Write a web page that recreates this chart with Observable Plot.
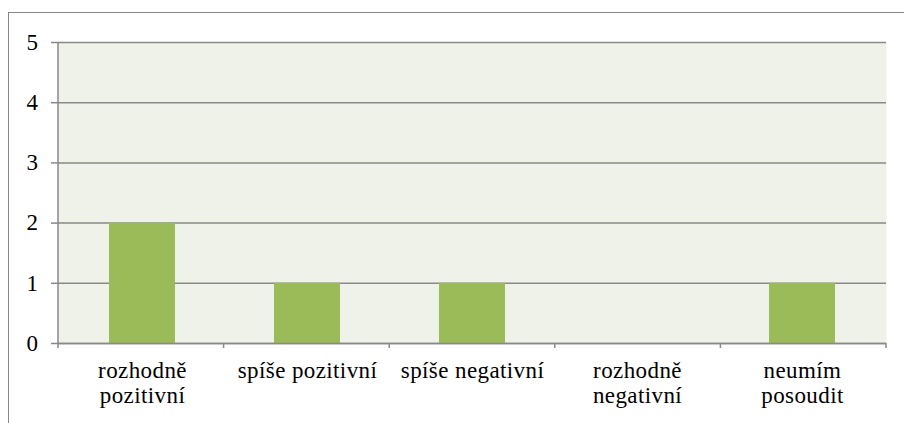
<!DOCTYPE html>
<html>
<head>
<meta charset="utf-8">
<script src="https://cdn.jsdelivr.net/npm/d3@7"></script>
<script src="https://cdn.jsdelivr.net/npm/@observablehq/plot@0.6"></script>
<style>
  html, body { margin: 0; padding: 0; background: #fff; overflow: hidden; }
  #wrap { position: relative; width: 904px; height: 423px; }
  #border { position: absolute; left: 8px; top: 12px; width: 1000px; height: 1000px;
            border-left: 1.5px solid #878787; border-top: 1.5px solid #878787; pointer-events: none; }
  #chart svg { display: block; }
  #chart svg text { font-family: "Liberation Serif", "Times New Roman", serif; font-size: 23px; letter-spacing: 0.4px; fill: #000; }
</style>
</head>
<body>
<div id="wrap">
  <div id="chart"></div>
  <div id="border"></div>
</div>
<script>
const categories = ["rozhodně pozitivní", "spíše pozitivní", "spíše negativní", "rozhodně negativní", "neumím posoudit"];
const counts = [2, 1, 1, 0, 1];
const tickLabels = ["rozhodně\npozitivní", "spíše pozitivní", "spíše negativní", "rozhodně\nnegativní", "neumím\nposoudit"];
const yTicks = [0, 1, 2, 3, 4, 5];

const data = categories.map((c, i) => ({category: c, count: counts[i]}));
const labelOf = new Map(categories.map((c, i) => [c, tickLabels[i]]));

const gridColor = "#898989";
const serif = "Liberation Serif";

function frameLines(index, scales, values, dimensions) {
  const {width, height, marginLeft, marginRight, marginTop, marginBottom} = dimensions;
  const g = d3.create("svg:g").attr("stroke", gridColor).attr("stroke-width", 1.5);
  const y0 = height - marginBottom;
  const n = categories.length;
  const step = (width - marginLeft - marginRight) / n;
  g.append("line").attr("x1", marginLeft).attr("x2", marginLeft).attr("y1", marginTop).attr("y2", y0);
  for (let i = 0; i <= n; i++) {
    const x = marginLeft + i * step;
    g.append("line").attr("x1", x).attr("x2", x).attr("y1", y0).attr("y2", y0 + 5);
  }
  return g.node();
}

const chart = Plot.plot({
  width: 904,
  height: 423,
  marginLeft: 58,
  marginRight: 18,
  marginTop: 42,
  marginBottom: 80,
  x: {domain: categories, paddingInner: 0.6, paddingOuter: 0.3},
  y: {domain: [0, 5]},
  style: {fontFamily: serif, fontSize: "23px", color: "#000", background: "transparent"},
  marks: [
    Plot.frame({fill: "#EFF2E9", stroke: null}),
    Plot.gridY(yTicks, {stroke: gridColor, strokeOpacity: 1, strokeWidth: 1.5}),
    Plot.barY(data, {x: "category", y: "count", fill: "#9BBB59"}),
    Plot.ruleY([0], {stroke: gridColor, strokeWidth: 1.5}),
    Plot.axisY(yTicks, {tickSize: 7, tickPadding: 13, stroke: gridColor, strokeWidth: 1.5, label: null,
      tickFormat: d => String(d), fontFamily: serif, fontSize: 23}),
    Plot.axisX({tickSize: 0, tickPadding: 17, tickFormat: d => labelOf.get(d), lineHeight: 1.087, label: null,
      fontFamily: serif, fontSize: 23}),
    frameLines
  ]
});
chart.querySelectorAll("text").forEach(t => {
  t.setAttribute("font-family", serif);
  t.setAttribute("font-size", "23");
});
document.getElementById("chart").appendChild(chart);
</script>
</body>
</html>
